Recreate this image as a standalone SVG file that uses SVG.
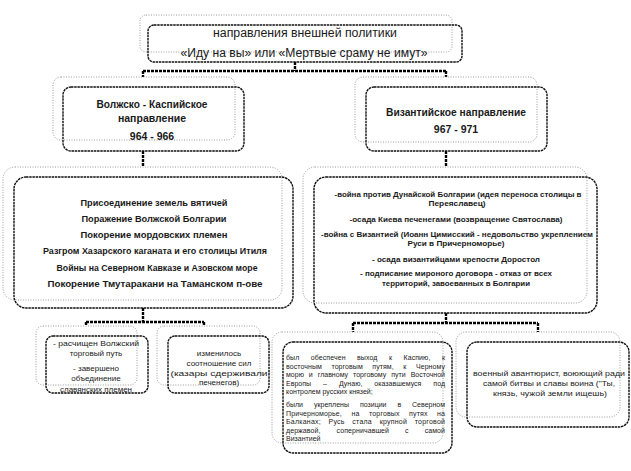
<svg xmlns="http://www.w3.org/2000/svg" width="631" height="471" viewBox="0 0 631 471">
<style>
.back{fill:#fff;stroke:#9a9a9a;stroke-width:1;stroke-dasharray:1 1.5}
.front{fill:none;stroke:#111;stroke-width:1.4;stroke-dasharray:2.5 0.7}
.conn{fill:none;stroke:#000;stroke-width:2.4;stroke-dasharray:3 1}
text{font-family:"Liberation Sans",Arial,sans-serif;fill:#1a1a1a;text-anchor:middle}
.t12{font-size:12px}
.b10{font-size:10.5px;font-weight:bold}
.b9{font-size:9.5px;font-weight:bold}
.b8{font-size:8px;font-weight:bold}
.r8{font-size:8px}
.r7{font-size:7px;text-anchor:start}
</style>
<rect width="631" height="471" fill="#fff"/>
<g id="connectors">
<path class="conn" d="M295,62V71M143,71H446M143,71V77M446,71V77"/>
<path class="conn" d="M143,151V167M446,151V167"/>
<path class="conn" d="M143,308V322M86,322H204M86,322V326M204,322V326"/>
<path class="conn" d="M446,313V323M353,323H538M353,323V332M538,323V332"/>
</g>
<g id="top">
<rect class="back" x="140" y="15" width="312" height="37" rx="6"/>
<rect class="front" x="148" y="25" width="314" height="37" rx="6"/>
<text class="t12" x="305" y="37" textLength="184" lengthAdjust="spacingAndGlyphs">направления внешней политики</text>
<text class="t12" x="304" y="57" textLength="247" lengthAdjust="spacingAndGlyphs">«Иду на вы» или «Мертвые сраму не имут»</text>
</g>
<g id="volga">
<rect class="back" x="53" y="77" width="182" height="63" rx="8"/>
<rect class="front" x="63" y="87" width="181" height="64" rx="8"/>
<text class="b10" x="152" y="108" textLength="111" lengthAdjust="spacingAndGlyphs">Волжско - Каспийское</text>
<text class="b10" x="152" y="122">направление</text>
<text class="b10" x="152" y="140">964 - 966</text>
</g>
<g id="byzantine">
<rect class="back" x="355" y="77" width="182" height="65" rx="8"/>
<rect class="front" x="366" y="87" width="181" height="64" rx="8"/>
<text class="b10" x="456" y="116" textLength="140" lengthAdjust="spacingAndGlyphs">Византийское направление</text>
<text class="b10" x="456" y="133">967 - 971</text>
</g>
<g id="volga-events">
<rect class="back" x="3" y="167" width="279" height="133" rx="12"/>
<rect class="front" x="14" y="177" width="279" height="131" rx="12"/>
<text class="b9" x="154" y="206" textLength="147" lengthAdjust="spacingAndGlyphs">Присоединение земель вятичей</text>
<text class="b9" x="154" y="222" textLength="145" lengthAdjust="spacingAndGlyphs">Поражение Волжской Болгарии</text>
<text class="b9" x="154" y="238" textLength="147" lengthAdjust="spacingAndGlyphs">Покорение мордовских племен</text>
<text class="b9" x="155" y="254" textLength="224" lengthAdjust="spacingAndGlyphs">Разгром Хазарского каганата и его столицы  Итиля</text>
<text class="b9" x="157" y="271" textLength="201" lengthAdjust="spacingAndGlyphs">Войны на Северном Кавказе и Азовском море</text>
<text class="b9" x="155" y="287" textLength="215" lengthAdjust="spacingAndGlyphs">Покорение Тмутаракани  на Таманском п-ове</text>
</g>
<g id="byz-events">
<rect class="back" x="303" y="167" width="284" height="136" rx="12"/>
<rect class="front" x="314" y="177" width="283" height="136" rx="12"/>
<text class="b8" x="458" y="197" textLength="247" lengthAdjust="spacingAndGlyphs">-война против Дунайской Болгарии (идея переноса столицы в</text>
<text class="b8" x="457" y="206" textLength="57" lengthAdjust="spacingAndGlyphs">Переяславец)</text>
<text class="b8" x="456" y="222" textLength="213" lengthAdjust="spacingAndGlyphs">-осада Киева печенегами (возвращение Святослава)</text>
<text class="b8" x="457" y="237" textLength="272" lengthAdjust="spacingAndGlyphs">-война с Византией (Иоанн Цимисский - недовольство укреплением</text>
<text class="b8" x="456" y="246" textLength="97" lengthAdjust="spacingAndGlyphs">Руси в Причерноморье)</text>
<text class="b8" x="456" y="262" textLength="168" lengthAdjust="spacingAndGlyphs">- осада византийцами крепости Доростол</text>
<text class="b8" x="456" y="276" textLength="192" lengthAdjust="spacingAndGlyphs">- подписание мироного договора - отказ от всех</text>
<text class="b8" x="456" y="286" textLength="148" lengthAdjust="spacingAndGlyphs">территорий, завоеванных в Болгарии</text>
</g>
<g id="volga-result1">
<rect class="back" x="36" y="326" width="101" height="59" rx="7"/>
<rect class="front" x="46" y="336" width="102" height="57" rx="7"/>
<text class="r8" x="96" y="346" textLength="86" lengthAdjust="spacingAndGlyphs">- расчищен Волжский</text>
<text class="r8" x="96" y="356">торговый путь</text>
<text class="r8" x="96" y="371">- завершено</text>
<text class="r8" x="96" y="381">объединение</text>
<text class="r8" x="96" y="392">славянских племен</text>
</g>
<g id="volga-result2">
<rect class="back" x="157" y="326" width="103" height="59" rx="7"/>
<rect class="front" x="168" y="336" width="101" height="57" rx="7"/>
<text class="r8" x="219" y="356">изменилось</text>
<text class="r8" x="219" y="366">соотношение сил</text>
<text class="r8" x="219" y="376" textLength="97" lengthAdjust="spacingAndGlyphs">(казары сдерживали</text>
<text class="r8" x="219" y="385">печенегов)</text>
</g>
<g id="byz-result1">
<rect class="back" x="272" y="332" width="171" height="111" rx="10"/>
<rect class="front" x="283" y="342" width="169" height="111" rx="10"/>
<text class="r7" x="286" y="360" word-spacing="9.5" textLength="159" lengthAdjust="spacing">был обеспечен выход к Каспию, к</text>
<text class="r7" x="286" y="368.5" word-spacing="7.5" textLength="159" lengthAdjust="spacing">восточным торговым путям, к Черному</text>
<text class="r7" x="286" y="377" word-spacing="3" textLength="159" lengthAdjust="spacing">морю и главному торговому пути Восточной</text>
<text class="r7" x="286" y="385.5" word-spacing="10" textLength="159" lengthAdjust="spacing">Европы – Дунаю, оказавшемуся под</text>
<text class="r7" x="286" y="394">контролем русских князей;</text>
<text class="r7" x="286" y="407" word-spacing="9" textLength="159" lengthAdjust="spacing">были укреплены позиции в Северном</text>
<text class="r7" x="286" y="415.5" word-spacing="7.5" textLength="159" lengthAdjust="spacing">Причерноморье, на торговых путях на</text>
<text class="r7" x="286" y="424" word-spacing="5.5" textLength="159" lengthAdjust="spacing">Балканах; Русь стала крупной торговой</text>
<text class="r7" x="286" y="432.5" word-spacing="14" textLength="159" lengthAdjust="spacing">державой, соперничавшей с самой</text>
<text class="r7" x="286" y="441">Византией</text>
</g>
<g id="byz-result2">
<rect class="back" x="456" y="332" width="164" height="85" rx="10"/>
<rect class="front" x="467" y="342" width="162" height="85" rx="10"/>
<text class="r8" x="549" y="376" textLength="152" lengthAdjust="spacingAndGlyphs">военный авантюрист, воюющий ради</text>
<text class="r8" x="549" y="386" textLength="132" lengthAdjust="spacingAndGlyphs">самой битвы и славы воина ("Ты,</text>
<text class="r8" x="550" y="396" textLength="114" lengthAdjust="spacingAndGlyphs">князь, чужой земли ищешь)</text>
</g>
</svg>
